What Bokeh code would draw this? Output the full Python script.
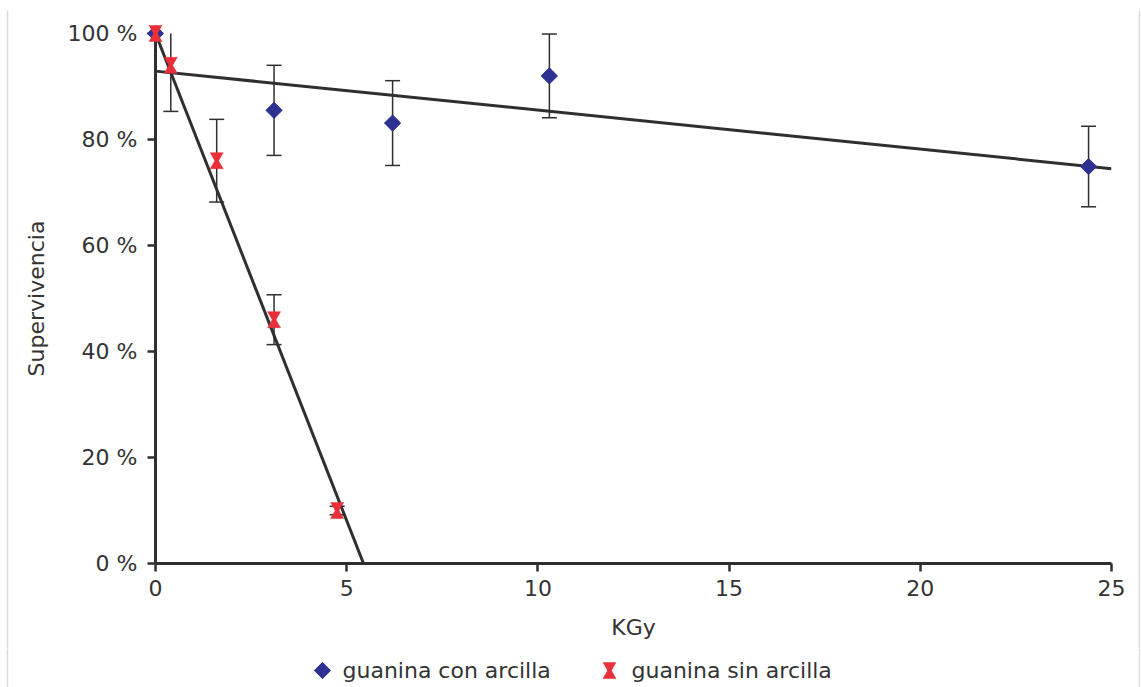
import math
from bokeh.plotting import figure
from bokeh.layouts import column
from bokeh.models import Range1d, ColumnDataSource, FixedTicker
from bokeh.core.properties import value
from bokeh.transform import dodge
from bokeh.embed import file_html
from bokeh.resources import INLINE

# ---------------- data ----------------
dose_con = [0.0, 3.1, 6.2, 10.3, 24.4]
surv_con = [100.0, 85.5, 83.1, 92.0, 74.9]
err_con = [0.0, 8.5, 8.0, 7.9, 7.6]

dose_sin = [0.0, 0.4, 1.6, 3.1, 4.75]
surv_sin = [100.0, 94.0, 76.0, 46.0, 10.0]
err_sin = [0.0, 8.7, 7.8, 4.7, 0.8]

trend_con_x = [0.0, 25.0]
trend_con_y = [92.9, 74.5]
trend_sin_x = [0.0, 5.44]
trend_sin_y = [100.0, 0.0]

x_ticks = [0, 5, 10, 15, 20, 25]
y_ticks = [0, 20, 40, 60, 80, 100]
y_tick_labels = ["0 %", "20 %", "40 %", "60 %", "80 %", "100 %"]

series_names = ["guanina con arcilla", "guanina sin arcilla"]
x_title = "KGy"
y_title = "Supervivencia"

# ---------------- style / layout ----------------
W, H = 1141, 687
LH = 39                       # legend strip height
MH = H - LH                   # main figure height
FL, FR, FT, FB = 155, 1111, 33, 563
X_MIN, X_MAX = 0, 25
Y_MIN, Y_MAX = 0, 100
FONT = "DejaVu Sans"
TXT = "#333333"
AX = "#2f2f2f"
BLUE = "#2e3192"
RED = "#e8303a"
FS = "22px"
BORDER = "#dcdcdc"
BORDER_X = [7, 1139]

px_per_y = (FB - FT) / (Y_MAX - Y_MIN)
HG = 13                       # hourglass triangle size (px)
HG_TOTAL = 16                 # hourglass total height (px)
hg_h = HG / 2 * math.sqrt(3)
hg_off_px = HG_TOTAL / 2 - hg_h / 3
hg_off = hg_off_px / px_per_y

p = figure(width=W, height=MH, x_range=Range1d(X_MIN, X_MAX), y_range=Range1d(Y_MIN, Y_MAX),
           min_border_left=FL, min_border_right=W - FR, min_border_top=FT,
           min_border_bottom=MH - FB, output_backend="svg", toolbar_location=None)
p.outline_line_color = None
p.xgrid.visible = False
p.ygrid.visible = False
p.background_fill_color = "white"
p.border_fill_color = "white"

for ax in (p.xaxis[0], p.yaxis[0]):
    ax.axis_line_color = AX
    ax.axis_line_width = 3
    ax.major_tick_line_color = AX
    ax.major_tick_line_width = 2.5
    ax.major_tick_out = 8
    ax.major_tick_in = 0
    ax.minor_tick_out = 0
    ax.minor_tick_in = 0
    ax.major_label_text_font = FONT
    ax.major_label_text_font_size = FS
    ax.major_label_text_color = TXT
    ax.axis_label_text_font = FONT
    ax.axis_label_text_font_size = FS
    ax.axis_label_text_font_style = "normal"
    ax.axis_label_text_color = TXT

p.xaxis.ticker = FixedTicker(ticks=x_ticks)
p.yaxis.ticker = FixedTicker(ticks=y_ticks)
p.yaxis.major_label_overrides = {t: l for t, l in zip(y_ticks, y_tick_labels)}
p.xaxis.axis_label = x_title
p.yaxis.axis_label = y_title
p.xaxis.major_label_standoff = 8
p.yaxis.major_label_standoff = 10
p.xaxis.axis_label_standoff = 16
p.yaxis.axis_label_standoff = 16

# trend lines
p.line(trend_con_x, trend_con_y, line_color=AX, line_width=3)
p.line(trend_sin_x, trend_sin_y, line_color=AX, line_width=3)


def error_bars(xs, ys, es):
    sx, s0, s1, cx, cy = [], [], [], [], []
    for x, y, e in zip(xs, ys, es):
        if e <= 0:
            continue
        lo, hi = y - e, min(y + e, Y_MAX)
        sx.append(x); s0.append(lo); s1.append(hi)
        cx.append(x); cy.append(lo)
        if y + e <= Y_MAX:
            cx.append(x); cy.append(hi)
    p.segment(x0=sx, y0=s0, x1=sx, y1=s1, line_color=AX, line_width=1.5, level="overlay")
    p.scatter(cx, cy, marker="dash", size=15, line_color=AX, line_width=1.5, level="overlay")


error_bars(dose_con, surv_con, err_con)
error_bars(dose_sin, surv_sin, err_sin)

src_con = ColumnDataSource(dict(x=dose_con, y=surv_con))
src_sin = ColumnDataSource(dict(x=dose_sin, y=surv_sin))

p.scatter("x", "y", source=src_con, marker="square", angle=math.pi / 4, size=11.5,
          fill_color=BLUE, line_color=BLUE, level="overlay")
p.scatter(x="x", y=dodge("y", hg_off), source=src_sin, marker="inverted_triangle", size=HG,
          fill_color=RED, line_color=RED, line_width=0.5, level="overlay")
p.scatter(x="x", y=dodge("y", -hg_off), source=src_sin, marker="triangle", size=HG,
          fill_color=RED, line_color=RED, line_width=0.5, level="overlay")

# faint outer border lines (pixel-space ranges of the main figure)
p.extra_x_ranges = {"px": Range1d(FL, FR)}
p.extra_y_ranges = {"px": Range1d(MH - FB, MH - FT)}
p.segment(x0=BORDER_X, y0=[0, 0], x1=BORDER_X, y1=[MH - 10, MH - 10], x_range_name="px",
          y_range_name="px", line_color=BORDER, line_width=1.5, level="overlay")

# ---------------- legend strip (pixel coordinates, y from strip bottom) ----------------
lg = figure(width=W, height=LH, x_range=Range1d(FL, FR), y_range=Range1d(0, LH),
            min_border_left=FL, min_border_right=W - FR, min_border_top=0, min_border_bottom=0,
            output_backend="svg", toolbar_location=None)
lg.axis.visible = False
lg.grid.visible = False
lg.outline_line_color = None
lg.background_fill_color = "white"
lg.border_fill_color = "white"

LEG_Y = H - 670
leg_blue_x, leg_red_x = 322, 609
lg.scatter([leg_blue_x], [LEG_Y], marker="square", angle=math.pi / 4, size=11.5,
           fill_color=BLUE, line_color=BLUE)
lg.scatter([leg_red_x], [LEG_Y + hg_off_px], marker="inverted_triangle", size=HG,
           fill_color=RED, line_color=RED, line_width=0.5)
lg.scatter([leg_red_x], [LEG_Y - hg_off_px], marker="triangle", size=HG,
           fill_color=RED, line_color=RED, line_width=0.5)
lg.text(x=[leg_blue_x + 20, leg_red_x + 22], y=[LEG_Y, LEG_Y], text=series_names,
        text_font=value(FONT), text_font_size=FS, text_color=TXT,
        text_baseline="middle", text_align="left")
lg.segment(x0=BORDER_X, y0=[0, 0], x1=BORDER_X, y1=[LH, LH], line_color=BORDER,
           line_width=1.5, level="overlay")

layout = column(p, lg, spacing=0)
open("out.html", "w").write(file_html(layout, INLINE))
